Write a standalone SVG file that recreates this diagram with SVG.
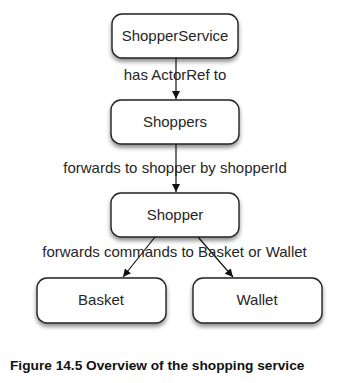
<svg xmlns="http://www.w3.org/2000/svg" width="339" height="383" viewBox="0 0 339 383">
  <style>
    .box { fill: #ffffff; stroke: #222222; stroke-width: 1.4; filter: url(#shadow); }
    .name { font-family: "Liberation Sans", Arial, sans-serif; font-size: 15px; fill: #262626; text-anchor: middle; }
    .label { font-family: "Liberation Sans", Arial, sans-serif; font-size: 15px; fill: #262626; text-anchor: middle; }
    .edge { fill: none; stroke: #111111; stroke-width: 1.2; marker-end: url(#arrow); }
    .caption { font-family: "Liberation Sans", Arial, sans-serif; font-size: 13.7px; font-weight: bold; fill: #111111; }
  </style>
  <defs>
    <filter id="shadow" x="-20%" y="-20%" width="140%" height="160%">
      <feDropShadow dx="0" dy="3" stdDeviation="2" flood-color="#000000" flood-opacity="0.45"/>
    </filter>
    <marker id="arrow" viewBox="0 0 10 10" refX="10" refY="5" markerWidth="8" markerHeight="8" markerUnits="userSpaceOnUse" orient="auto">
      <path d="M0,0 L10,5 L0,10 z" fill="#111111"/>
    </marker>
  </defs>
  <rect width="339" height="383" fill="#ffffff"/>

  <g id="connectors">
    <line class="edge" x1="176" y1="58" x2="176" y2="99"/>
    <line class="edge" x1="176" y1="144" x2="176" y2="192"/>
    <line class="edge" x1="155" y1="237" x2="123" y2="277"/>
    <line class="edge" x1="198" y1="237" x2="233" y2="277"/>
  </g>

  <g id="node-shopperservice">
    <rect class="box" x="112" y="14" width="126" height="44" rx="10"/>
    <text class="name" x="175" y="41">ShopperService</text>
  </g>
  <g id="node-shoppers">
    <rect class="box" x="111" y="100" width="128" height="44" rx="10"/>
    <text class="name" x="175" y="127">Shoppers</text>
  </g>
  <g id="node-shopper">
    <rect class="box" x="111" y="193" width="128" height="44" rx="10"/>
    <text class="name" x="175" y="220">Shopper</text>
  </g>
  <g id="node-basket">
    <rect class="box" x="37" y="278" width="129" height="45" rx="10"/>
    <text class="name" x="101" y="305">Basket</text>
  </g>
  <g id="node-wallet">
    <rect class="box" x="193" y="278" width="129" height="45" rx="10"/>
    <text class="name" x="257" y="305">Wallet</text>
  </g>

  <g id="edge-labels">
    <text class="label" x="175" y="80">has ActorRef to</text>
    <text class="label" x="175" y="173">forwards to shopper by shopperId</text>
    <text class="label" x="174.5" y="257">forwards commands to Basket or Wallet</text>
  </g>

  <text class="caption" x="10" y="370">Figure 14.5 Overview of the shopping service</text>
</svg>
